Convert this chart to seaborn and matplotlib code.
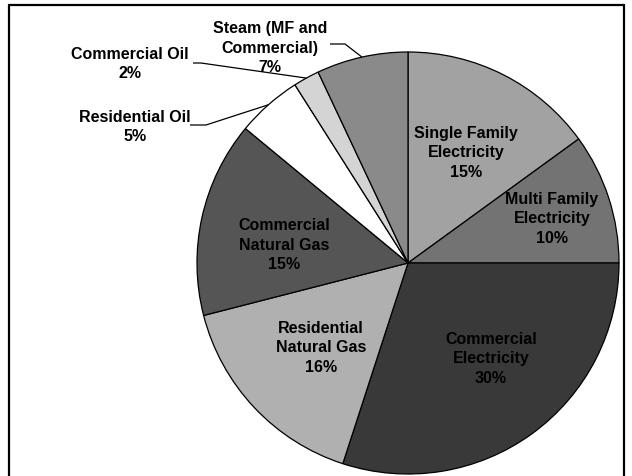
import numpy as np
import matplotlib
matplotlib.use("Agg")
import matplotlib.pyplot as plt
from matplotlib.lines import Line2D
import seaborn as sns

# Energy use shares by sector and fuel, clockwise from 12 o'clock
categories = [
    "Single Family\nElectricity",
    "Multi Family\nElectricity",
    "Commercial\nElectricity",
    "Residential\nNatural Gas",
    "Commercial\nNatural Gas",
    "Residential Oil",
    "Commercial Oil",
    "Steam (MF and\nCommercial)",
]
shares = [15, 10, 30, 16, 15, 5, 2, 7]

# Grey fills for the slices
fills = ["#a2a2a2", "#737373", "#393939", "#b0b0b0",
         "#555555", "#ffffff", "#d4d4d4", "#8a8a8a"]

# Canvas in pixel units (y measured downward from the top edge)
W, H = 632, 476
CX, CY, R = 408, 263, 211

# Label centres (px); the outside labels get leader lines
label_xy = [(466, 153), (552, 219), (491, 359), (321, 348),
            (284, 245), (135, 127), (130, 64), (270, 48)]
# leader: start point next to the label, end of the horizontal stub
leaders = {
    5: [(190, 125), (206, 125)],
    6: [(193, 63), (201, 63)],
    7: [(330, 44), (345, 44)],
}

sns.set_theme(style="white")
plt.rcParams["font.family"] = ["Liberation Sans", "DejaVu Sans"]

fig = plt.figure(figsize=(W / 100, H / 100), dpi=100)
fig.patch.set_facecolor("white")
ax = fig.add_axes([0, 0, 1, 1])

wedges, _ = ax.pie(
    shares,
    colors=fills,
    startangle=90,
    counterclock=False,
    center=(CX, H - CY),
    radius=R,
    wedgeprops=dict(edgecolor="black", linewidth=0.9),
    frame=True,
)
ax.set_xlim(0, W)
ax.set_ylim(0, H)
ax.set_aspect("equal")
ax.axis("off")

for i, (name, val) in enumerate(zip(categories, shares)):
    lx, ly = label_xy[i]
    ax.text(lx, H - ly, f"{name}\n{val}%", ha="center", va="center",
            fontsize=11.5, fontweight="bold", color="black",
            linespacing=1.38)
    if i in leaders:
        w = wedges[i]
        mid = np.deg2rad((w.theta1 + w.theta2) / 2)
        ex = CX + R * np.cos(mid)
        ey = CY - R * np.sin(mid)
        pts = leaders[i] + [(ex, ey)]
        xs = [p[0] for p in pts]
        ys = [H - p[1] for p in pts]
        ax.plot(xs, ys, color="black", linewidth=0.9, solid_capstyle="butt")

# Outer frame (left, top, right sides)
frame_kw = dict(color="black", linewidth=1.6, transform=fig.transFigure)
L, T, Rt = 9 / W, 1 - 5 / H, 624 / W
fig.add_artist(Line2D([L, L], [0, T], **frame_kw))
fig.add_artist(Line2D([L, Rt], [T, T], **frame_kw))
fig.add_artist(Line2D([Rt, Rt], [0, T], **frame_kw))

fig.savefig("out.png", dpi=100, facecolor="white")
